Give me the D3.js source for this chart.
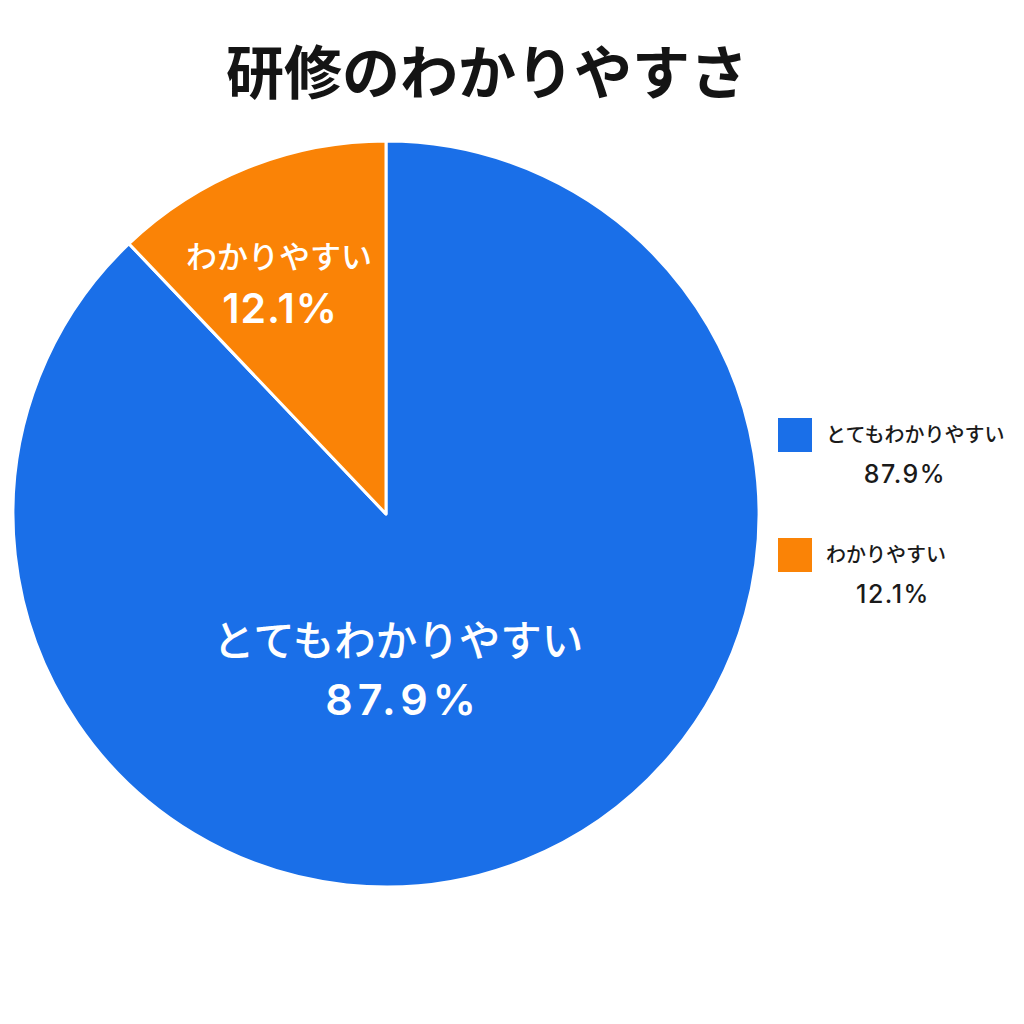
<!DOCTYPE html>
<html>
<head>
  <meta charset="utf-8">
  <title>研修のわかりやすさ</title>
  <script src="https://cdn.jsdelivr.net/npm/d3@7/dist/d3.min.js"></script>
  <style>
    body { margin: 0; background: #fff; }
    text { font-family: "Inter", "Noto Sans CJK JP", sans-serif; }
  </style>
</head>
<body>
  <div id="chart"></div>
  <script>
    // data
    var categories = ["とてもわかりやすい", "わかりやすい"];
    var values = [87.9, 12.1];
    var colors = ["#1a6fe8", "#fa8306"];
    var title = "研修のわかりやすさ";

    var width = 1024, height = 1024;
    var cx = 386, cy = 514, radius = 373;

    var svg = d3.select("#chart").append("svg")
      .attr("width", width)
      .attr("height", height);

    // title
    svg.append("text")
      .attr("x", 487)
      .attr("y", 73)
      .attr("dy", "0.36em")
      .attr("text-anchor", "middle")
      .attr("font-size", 58)
      .attr("font-weight", "bold")
      .attr("fill", "#141414")
      .text(title);

    var data = categories.map(function(c, i) { return { label: c, value: values[i], color: colors[i] }; });

    var pie = d3.pie().sort(null).value(function(d) { return d.value; });
    var arc = d3.arc().innerRadius(0).outerRadius(radius);

    var g = svg.append("g").attr("transform", "translate(" + cx + "," + cy + ")");

    var arcs = pie(data);

    g.selectAll("path")
      .data(arcs)
      .enter().append("path")
      .attr("d", arc)
      .attr("fill", function(d) { return d.data.color; })
      .attr("stroke", "#fff")
      .attr("stroke-width", 3)
      .attr("stroke-linejoin", "round");

    // slice labels (offset from the arc centroid, per slice)
    var labelStyle = [
      { r: 0.42, dx: -46, nameY: 641, pctY: 700, nameSize: 41.5, pctSize: 43, spacing: 5 },
      { r: 0.70, dx: -10, nameY: 257, pctY: 308, nameSize: 31, pctSize: 41, spacing: 1 }
    ];
    arcs.forEach(function(d, i) {
      var s = labelStyle[i];
      var c = d3.arc().innerRadius(radius * s.r).outerRadius(radius * s.r).centroid(d);
      var x = cx + c[0] + s.dx;
      svg.append("text")
        .attr("x", x)
        .attr("y", s.nameY)
        .attr("dy", "0.36em")
        .attr("text-anchor", "middle")
        .attr("font-size", s.nameSize)
        .attr("font-weight", 500)
        .attr("fill", "#fff")
        .text(d.data.label);
      svg.append("text")
        .attr("x", x + s.spacing)
        .attr("y", s.pctY)
        .attr("dy", "0.36em")
        .attr("text-anchor", "middle")
        .attr("font-size", s.pctSize)
        .attr("font-weight", 600)
        .attr("letter-spacing", s.spacing)
        .attr("fill", "#fff")
        .text(d.data.value.toFixed(1) + "%");
    });

    // legend
    var pctCenter = [127, 115];
    var legend = svg.append("g").attr("transform", "translate(778,418)");
    data.forEach(function(d, i) {
      var row = legend.append("g").attr("transform", "translate(0," + (i * 120) + ")");
      row.append("rect")
        .attr("width", 34).attr("height", 34)
        .attr("fill", d.color);
      row.append("text")
        .attr("x", 48).attr("y", 17)
        .attr("dy", "0.36em")
        .attr("font-size", 20)
        .attr("font-weight", 500)
        .attr("fill", "#1a1a1a")
        .text(d.label);
      row.append("text")
        .attr("x", pctCenter[i]).attr("y", 56)
        .attr("dy", "0.36em")
        .attr("text-anchor", "middle")
        .attr("font-size", 25)
        .attr("font-weight", 500)
        .attr("letter-spacing", 1.5)
        .attr("fill", "#1a1a1a")
        .text(d.value.toFixed(1) + "%");
    });
  </script>
</body>
</html>
